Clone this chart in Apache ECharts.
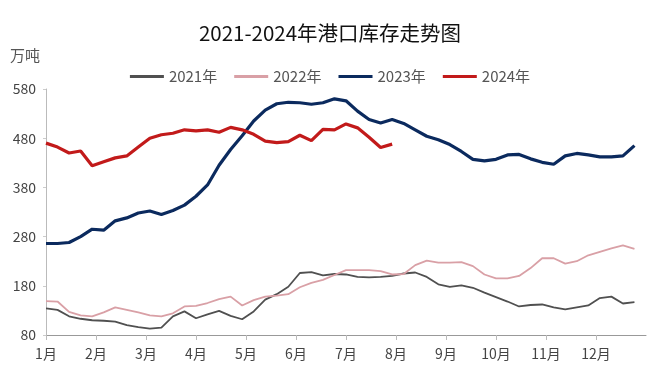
<!DOCTYPE html>
<html>
<head>
<meta charset="utf-8">
<script src="https://cdn.jsdelivr.net/npm/echarts@6/dist/echarts.min.js"></script>
<style>html,body{margin:0;padding:0;background:#fff;}#c{width:660px;height:374px;}</style>
</head>
<body>
<div id="c"></div>
<script>
const monthLabels = ['1月','2月','3月','4月','5月','6月','7月','8月','9月','10月','11月','12月'];
const weeksPerYear = 52;
const yTicks = {min: 80, max: 580, interval: 100};

const s2021 = [134,131,118,113,110,109,107,100,96,93,95,118,128,114,122,129,119,112,128,152,163,178,206,208,201,204,203,198,197,198,200,205,207,198,183,178,181,176,166,157,148,138,141,142,136,132,136,140,155,158,144,147];
const s2022 = [149,148,127,120,118,126,136,131,126,120,118,124,138,139,145,153,158,140,151,158,160,163,177,186,192,202,212,212,212,210,203,204,222,231,227,227,228,220,203,195,195,200,216,236,236,225,230,242,249,256,262,255];
const s2023 = [266,266,268,280,295,293,312,318,328,332,325,333,344,362,385,425,457,485,515,537,550,553,552,549,552,560,556,535,518,511,518,510,497,484,477,467,453,437,434,437,446,447,438,431,427,444,449,446,442,442,444,465];
const s2024 = [470,462,450,454,424,432,440,444,462,480,487,490,497,495,497,492,502,497,488,474,471,473,486,475,498,497,509,501,482,461,468];

const seriesNames = ['2021年','2022年','2023年','2024年'];
const seriesData = [s2021, s2022, s2023, s2024];
const colors = ['#505050','#d9a0a6','#0b2a5e','#c21a1a'];
const widths = [1.8, 1.8, 3.2, 3.2];

const toPairs = arr => arr.map((v, i) => [i, v]);

const chart = echarts.init(document.getElementById('c'));
chart.setOption({
  animation: false,
  title: {
    text: '2021-2024年港口库存走势图',
    left: 'center', top: 18,
    textStyle: {fontFamily: 'Noto Sans CJK SC', fontSize: 20.5, fontWeight: 'normal', color: '#111'}
  },
  legend: {
    top: 64, left: 'center',
    itemWidth: 34, itemHeight: 3, itemGap: 17,
    icon: 'rect',
    textStyle: {fontFamily: 'Noto Sans CJK SC', fontSize: 15, color: '#555'},
    data: seriesNames
  },
  grid: {left: 46, right: 14, top: 89, bottom: 39},
  xAxis: {
    type: 'value', min: 0, max: weeksPerYear, interval: weeksPerYear / 12,
    axisLine: {lineStyle: {color: '#999', width: 1}},
    axisTick: {show: true, length: 5, lineStyle: {color: '#bbb'}},
    splitLine: {show: false},
    axisLabel: {
      showMaxLabel: false,
      margin: 12,
      fontFamily: 'Noto Sans CJK SC', fontSize: 14, color: '#444',
      formatter: v => monthLabels[Math.round(v * 12 / weeksPerYear)] || ''
    }
  },
  yAxis: {
    type: 'value', min: yTicks.min, max: yTicks.max, interval: yTicks.interval,
    name: '万吨', nameLocation: 'end', nameGap: 26,
    nameTextStyle: {fontFamily: 'Noto Sans CJK SC', fontSize: 15, color: '#555', align: 'right', padding: [0, 6, 0, 0]},
    axisLine: {show: true, lineStyle: {color: '#bbb'}},
    axisTick: {show: true, length: 3, inside: false, lineStyle: {color: '#ccc'}},
    splitLine: {show: false},
    axisLabel: {fontFamily: 'Noto Sans CJK SC', fontSize: 14, color: '#444', margin: 10}
  },
  series: seriesNames.map((n, k) => ({
    name: n, type: 'line', showSymbol: false, symbol: 'none',
    data: toPairs(seriesData[k]),
    lineStyle: {color: colors[k], width: widths[k]},
    itemStyle: {color: colors[k]},
    z: k + 2
  }))
});
</script>
</body>
</html>
